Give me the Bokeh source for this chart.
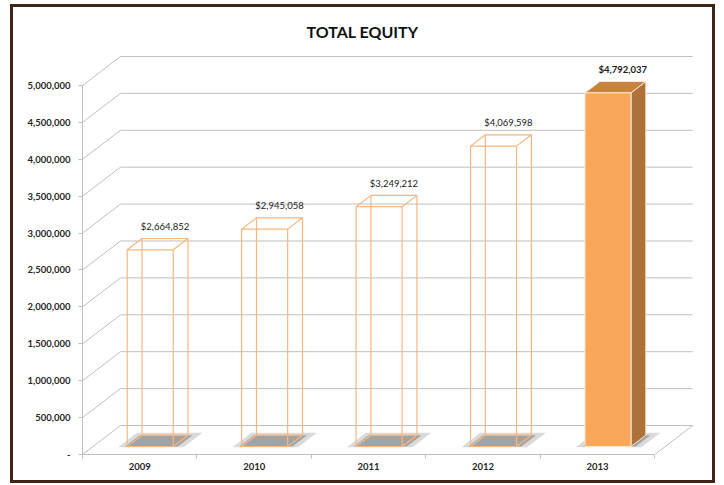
from bokeh.plotting import figure
from bokeh.models import Range1d, FixedTicker, NumeralTickFormatter, Title, InlineStyleSheet
from bokeh.core.properties import value
from bokeh.embed import file_html
from bokeh.resources import INLINE

# ---- data ----
years = ["2009", "2010", "2011", "2012", "2013"]
equity = [2664852, 2945058, 3249212, 4069598, 4792037]
y_ticks = [0, 500000, 1000000, 1500000, 2000000, 2500000,
           3000000, 3500000, 4000000, 4500000, 5000000]
highlight = ["2013"]

# ---- style / projection constants ----
FONT = "Lato"
GRID = "#bfbfbf"
WIRE = "#f9b67c"
FRONT = "#f9a75b"
SIDE = "#ad7238"
TOP = "#c8843f"
PX_X = 114.4            # px per category
PX_Y = 73.8 / 1e6       # px per unit value
DX = 38 / PX_X          # wall depth in x units
DY = 29 / PX_Y          # wall depth in y units
F1, F2 = 0.276, 0.666   # bar front/back depth fractions
W = 0.201               # half bar width (category units)

n = len(years)
x_end = 5.4
y_end = 5.474e6

p = figure(frame_width=int(round(x_end * PX_X)), frame_height=int(round(y_end * PX_Y)),
           x_range=Range1d(0, x_end), y_range=Range1d(0, y_end),
           output_backend="svg", toolbar_location=None,
           min_border_left=82, min_border_right=16, min_border_top=50, min_border_bottom=30)
p.background_fill_color = "white"
p.border_fill_color = "white"
p.outline_line_color = None
p.xgrid.visible = False
p.ygrid.visible = False

p.title = Title(text="TOTAL EQUITY", align="left", text_font=FONT,
                text_font_size="16px", text_font_style="bold", text_color="#111111",
                offset=224, standoff=20)

# brown chart frame (drawn as a CSS overlay box on the figure)
p.stylesheets = [InlineStyleSheet(css="""
:host { position: relative; }
:host::after {
  content: ""; position: absolute; left: 10px; top: 4px; width: 705px; height: 479px;
  box-sizing: border-box; border: 3px solid #3d2616; pointer-events: none; z-index: 100;
}
""")]

# y axis
ya = p.yaxis[0]
ya.ticker = FixedTicker(ticks=y_ticks)
ya.formatter = NumeralTickFormatter(format="0,0")
ya.major_label_overrides = {0: "-"}
ya.bounds = (0, y_ticks[-1])
ya.axis_line_color = GRID
ya.major_tick_line_color = GRID
ya.major_tick_out = 4
ya.major_tick_in = 0
ya.minor_tick_line_color = None
ya.major_label_text_font = FONT
ya.major_label_text_font_size = "9.5px"
ya.major_label_text_font_style = "bold"
ya.major_label_text_color = "#262626"
ya.major_label_standoff = 8

# x axis
xa = p.xaxis[0]
centers = [i + 0.5 for i in range(n)]
xa.ticker = FixedTicker(ticks=centers, minor_ticks=list(range(n + 1)))
xa.major_label_overrides = {c: y for c, y in zip(centers, years)}
xa.bounds = (0, n)
xa.axis_line_color = GRID
xa.major_tick_line_color = None
xa.major_tick_out = 0
xa.major_tick_in = 0
xa.minor_tick_line_color = GRID
xa.minor_tick_out = 4
xa.minor_tick_in = 0
xa.major_label_text_font = FONT
xa.major_label_text_font_size = "9.5px"
xa.major_label_text_font_style = "bold"
xa.major_label_text_color = "#262626"
xa.major_label_standoff = 4

# ---- walls: side-wall diagonals + back-wall gridlines ----
gxs = [[0, DX, n + DX] for v in y_ticks]
gys = [[v, v + DY, v + DY] for v in y_ticks]
p.multi_line(gxs, gys, line_color=GRID, line_width=1)
# floor right edge
p.line([n, n + DX], [0, DY], line_color=GRID, line_width=1)


def P(c, side, f, v):
    return (c + side * W + f * DX, v + f * DY)


# ---- shadows ----
for c in centers:
    sx, sy = [], []
    for (s, f, ex) in [(-1, F1 - 0.03, -0.07), (1, F1 - 0.03, 0.10), (1, F2 + 0.08, 0.10), (-1, F2 + 0.08, -0.07)]:
        x, y = P(c, s, f, 0)
        sx.append(x + ex); sy.append(y)
    p.patch(sx, sy, fill_color="#dadada", line_color=None)
    sx, sy = [], []
    for (s, f, ex) in [(-1, F1, -0.02), (1, F1, 0.04), (1, F2, 0.04), (-1, F2, -0.02)]:
        x, y = P(c, s, f, 0)
        sx.append(x + ex); sy.append(y)
    p.patch(sx, sy, fill_color="#a3a3a3", line_color=None)

# ---- wireframe bars ----
wxs, wys = [], []
for c, yr, val in zip(centers, years, equity):
    if yr in highlight:
        continue
    edges = []
    for f in (F1, F2):
        edges.append([P(c, -1, f, 0), P(c, 1, f, 0), P(c, 1, f, val), P(c, -1, f, val), P(c, -1, f, 0)])
    for s in (-1, 1):
        for v in (0, val):
            edges.append([P(c, s, F1, v), P(c, s, F2, v)])
    for e in edges:
        wxs.append([q[0] for q in e]); wys.append([q[1] for q in e])
p.multi_line(wxs, wys, line_color=WIRE, line_width=1.2)

# ---- solid highlighted bar ----
for c, yr, val in zip(centers, years, equity):
    if yr not in highlight:
        continue
    side = [P(c, 1, F1, 0), P(c, 1, F2, 0), P(c, 1, F2, val), P(c, 1, F1, val)]
    top = [P(c, -1, F1, val), P(c, 1, F1, val), P(c, 1, F2, val), P(c, -1, F2, val)]
    front = [P(c, -1, F1, 0), P(c, 1, F1, 0), P(c, 1, F1, val), P(c, -1, F1, val)]
    for poly, col in [(side, SIDE), (top, TOP), (front, FRONT)]:
        p.patch([q[0] for q in poly], [q[1] for q in poly], fill_color=col,
                line_color="#fde6cf", line_width=1)

# ---- data labels ----
for c, yr, val in zip(centers, years, equity):
    lx, ly = c + F2 * DX, val + F2 * DY
    p.text([lx], [ly], text=["${:,}".format(val)], text_align="center", text_baseline="middle",
           y_offset=-12, text_font=value(FONT), text_font_size="9.5px",
           text_font_style="bold" if yr in highlight else "normal", text_color="#1a1a1a")

open("out.html", "w").write(file_html(p, INLINE))
